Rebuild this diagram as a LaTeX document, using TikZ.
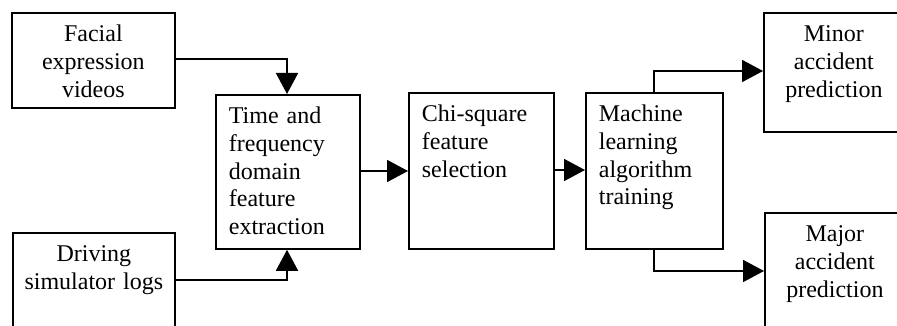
\documentclass[tikz,border=0pt]{standalone}
\usepackage{fontspec}
\setmainfont{Liberation Serif}
\usetikzlibrary{arrows.meta}
\tikzset{
  blk/.style={draw, line width=1.8pt, inner ysep=0pt, inner xsep=13pt, anchor=north west,
    font=\fontsize{24}{27.6}\selectfont, text height=29pt},
  blkc/.style={blk, align=center},
  blkl/.style={blk, align=left},
  conn/.style={line width=1.8pt, -{Triangle[length=21pt,width=22pt]}}
}
\begin{document}
\begin{tikzpicture}[x=1pt,y=-1pt]
\useasboundingbox (0,0) rectangle (897,326);
\fill[white] (0,0) rectangle (897,326);
\node[blkc, text width=137pt, text depth=66pt] (fac) at (11,12) {Facial\\expression\\videos};
\node[blkc, text width=150pt, inner xsep=6pt, text depth=90pt] (drv) at (12,232) {Driving\\simulator logs};
\node[blkl, text width=118pt, text depth=125pt] (tf) at (215,94) {Time and\\frequency\\domain\\feature\\extraction};
\node[blkl, text width=119pt, text depth=127pt] (chi) at (408,92) {Chi-square\\feature\\selection};
\node[blkl, text width=111pt, text depth=127pt, inner xsep=13pt] (ml) at (585,92) {Machine\\learning\\algorithm\\training};
\node[blkc, text width=114pt, text depth=90pt] (min) at (763,12) {Minor\\accident\\prediction};
\node[blkc, text width=114pt, text depth=100pt] (maj) at (764,212) {Major\\accident\\prediction};
\coordinate (c1) at (287,59);
\coordinate (c2) at (287,280);
\coordinate (c3) at (654,71);
\coordinate (c4) at (654,271);
\draw[conn] (fac.east |- c1) -- (c1) -- (c1 |- tf.north);
\draw[conn] (drv.east |- c2) -- (c2) -- (c2 |- tf.south);
\draw[conn] (tf.east |- 0,171) -- (chi.west |- 0,171);
\draw[conn] (chi.east |- 0,170) -- (ml.west |- 0,170);
\draw[conn] (c3 |- ml.north) -- (c3) -- (c3 -| min.west);
\draw[conn] (c4 |- ml.south) -- (c4) -- (c4 -| maj.west);
\end{tikzpicture}
\end{document}
